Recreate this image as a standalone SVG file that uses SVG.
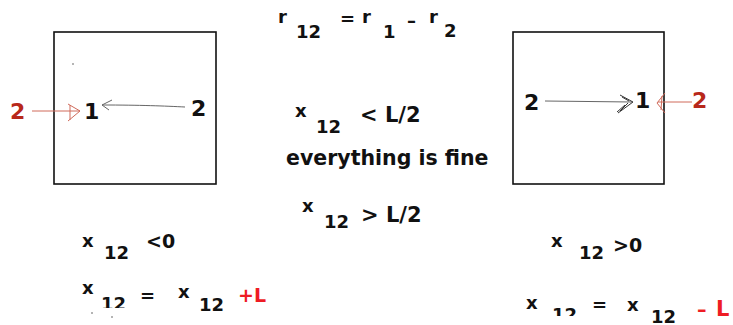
<svg xmlns="http://www.w3.org/2000/svg" width="733" height="325" viewBox="0 0 733 325">
<defs>
<style>
text{font-family:"DejaVu Sans","Liberation Sans",sans-serif;font-weight:bold;font-size:18px;fill:#111}
.big{font-size:22px}
.m{font-size:21px}
.fine{font-size:20.5px}
.c{font-size:19px}
.dred{fill:#b8281a}
.red{fill:#ee1c24}
.box{fill:none;stroke:#111;stroke-width:1.6}
.rl{fill:none;stroke:#d06a5a;stroke-width:1}
.gl{fill:none;stroke:#666;stroke-width:1}
</style>
<clipPath id="clipL"><rect x="0" y="0" width="733" height="308"/></clipPath>
<clipPath id="clipR"><rect x="0" y="0" width="733" height="316"/></clipPath>
</defs>
<rect width="733" height="325" fill="#fff"/>

<g id="boxLeft">
<rect class="box" x="54" y="32" width="162" height="152"/>
<circle cx="73" cy="64" r="0.7" fill="#333"/>
<text class="big" x="84" y="119">1</text>
<text class="big" x="191" y="116">2</text>
</g>
<g id="labelLeft2">
<text class="big dred" x="10" y="119">2</text>
</g>

<g id="boxRight">
<rect class="box" x="513" y="32" width="151" height="152"/>
<text class="big" x="524" y="110">2</text>
<text class="big" x="635" y="108">1</text>
</g>
<g id="labelRight2">
<text class="big dred" x="692" y="108">2</text>
</g>

<g id="connectors">
<path class="rl" d="M32 111 L80 111"/>
<path class="rl" d="M68 104 L80 111 L68 121 M70 105 L70 120"/>
<path class="gl" d="M185 107 C165 106 140 105 102 105 M112 100 L102 105 L109 110"/>
<path class="gl" d="M545 101 L632 102"/>
<path class="gl" style="stroke:#333" d="M620 95 L633 102 L618 113 M622 97 L629 101 M628 103 L620 111 M625 105 L617 112"/>
<path class="rl" d="M692 102 L658 102 M665 93 L657 103 L665 113 M662 96 L661 110"/>
</g>

<g id="eqTop">
<text x="278" y="23">r</text>
<text x="296" y="38">12</text>
<text x="340" y="25">=</text>
<text x="362" y="23">r</text>
<text x="383" y="38">1</text>
<text x="407" y="27">–</text>
<text x="429" y="23">r</text>
<text x="444" y="37">2</text>
</g>

<g id="condLess">
<text x="295" y="117">x</text>
<text x="316" y="133">12</text>
<text class="m" x="360" y="122">&lt; L/2</text>
</g>

<g id="fine">
<text class="fine" x="286" y="165">everything is fine</text>
</g>

<g id="condGreater">
<text x="302" y="212">x</text>
<text x="324" y="228">12</text>
<text class="m" x="361" y="222">&gt; L/2</text>
</g>

<g id="leftCase">
<text x="82" y="247">x</text>
<text x="104" y="259">12</text>
<text class="c" x="146" y="248">&lt;0</text>
<text x="82" y="294">x</text>
<text x="101" y="310" clip-path="url(#clipL)">12</text>
<text x="140" y="302">=</text>
<text x="178" y="298">x</text>
<text x="199" y="311">12</text>
<text class="c red" x="238" y="302">+L</text>
<circle cx="92" cy="313" r="0.8" fill="#555"/>
<circle cx="112" cy="317" r="0.8" fill="#555"/>
</g>

<g id="rightCase">
<text x="551" y="247">x</text>
<text x="579" y="259">12</text>
<text class="c" x="613" y="252">&gt;0</text>
<text x="526" y="309">x</text>
<text x="552" y="321" clip-path="url(#clipR)">12</text>
<text x="592" y="311">=</text>
<text x="627" y="311">x</text>
<text x="651" y="323">12</text>
<text class="c red" x="697" y="316">–</text>
<text class="m red" x="716" y="316">L</text>
</g>
</svg>
